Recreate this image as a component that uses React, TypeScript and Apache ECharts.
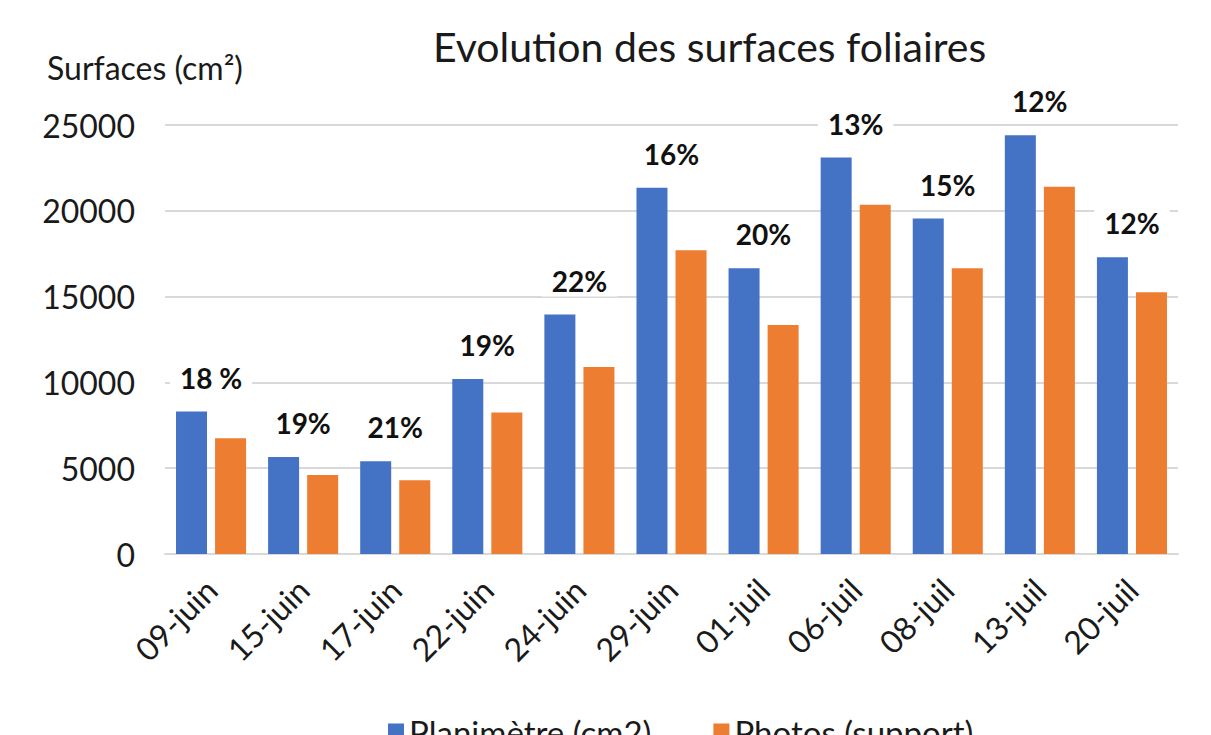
import React, { useEffect, useRef } from "react";
import * as echarts from "echarts";

const categories = ["09-juin", "15-juin", "17-juin", "22-juin", "24-juin", "29-juin", "01-juil", "06-juil", "08-juil", "13-juil", "20-juil"];
const planimetre = [8300, 5650, 5400, 10200, 13950, 21350, 16650, 23100, 19550, 24400, 17300];
const photos = [6750, 4600, 4300, 8250, 10900, 17700, 13350, 20350, 16650, 21400, 15250];
const percentLabels = ["18 %", "19%", "21%", "19%", "22%", "16%", "20%", "13%", "15%", "12%", "12%"];
const yTicks = { min: 0, max: 25000, interval: 5000 };

const FONT = "Lato, 'Open Sans', sans-serif";

export default function App() {
  const ref = useRef<HTMLDivElement>(null);
  useEffect(() => {
    if (!ref.current) return;
    const chart = echarts.init(ref.current, null, { renderer: "svg" });
    chart.setOption({
      animation: false,
      backgroundColor: "#ffffff",
      title: {
        text: "Evolution des surfaces foliaires",
        left: 428,
        top: 21,
        textStyle: { fontFamily: FONT, fontSize: 41, fontWeight: "normal", color: "#1a1a1a" },
      },
      legend: {
        bottom: -18,
        left: 383,
        itemWidth: 16,
        itemHeight: 16,
        itemGap: 62,
        icon: "rect",
        textStyle: { fontFamily: FONT, fontSize: 33, color: "#1a1a1a" },
        data: ["Planimètre (cm2)", "Photos (support)"],
      },
      grid: { left: 165, right: 33, top: 125, bottom: 181 },
      xAxis: {
        type: "category",
        data: categories,
        axisTick: { show: false },
        axisLine: { lineStyle: { color: "#d9d9d9", width: 2 } },
        axisLabel: {
          rotate: 45,
          margin: 30,
          fontFamily: FONT,
          fontSize: 32,
          color: "#1a1a1a",
          interval: 0,
        },
      },
      yAxis: {
        type: "value",
        min: yTicks.min,
        max: yTicks.max,
        interval: yTicks.interval,
        name: "Surfaces (cm²)",
        nameLocation: "end",
        nameGap: 42,
        nameTextStyle: {
          fontFamily: FONT,
          fontSize: 32,
          color: "#1a1a1a",
          align: "left",
          verticalAlign: "bottom",
          padding: [0, 0, 0, -118],
        },
        axisLine: { show: false },
        axisTick: { show: false },
        splitLine: { lineStyle: { color: "#d9d9d9", width: 2 } },
        axisLabel: {
          fontFamily: FONT,
          fontSize: 32,
          color: "#1a1a1a",
          margin: 30,
          formatter: (v: number) => String(v),
        },
      },
      series: [
        {
          name: "Planimètre (cm2)",
          type: "bar",
          data: planimetre,
          barWidth: 31,
          barGap: "26%",
          itemStyle: { color: "#4472C4" },
          label: {
            show: true,
            position: "top",
            distance: 18,
            offset: [19.5, 0],
            formatter: (p: any) => percentLabels[p.dataIndex],
            fontFamily: FONT,
            fontSize: 28,
            fontWeight: "bold",
            color: "#111",
            backgroundColor: "#ffffff",
            padding: [2, 10],
          },
        },
        {
          name: "Photos (support)",
          type: "bar",
          data: photos,
          barWidth: 31,
          itemStyle: { color: "#ED7D31" },
        },
      ],
    });
    return () => chart.dispose();
  }, []);
  return <div ref={ref} style={{ position: "fixed", left: 0, top: 0, width: 1211, height: 735 }} />;
}
